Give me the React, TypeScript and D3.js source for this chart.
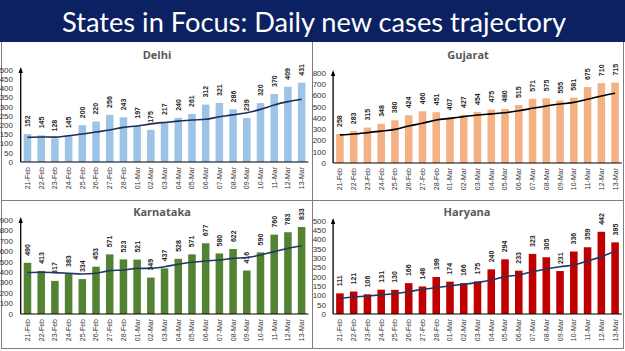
import React from 'react';
import * as d3 from 'd3';

const dates = ['21-Feb','22-Feb','23-Feb','24-Feb','25-Feb','26-Feb','27-Feb','28-Feb','01-Mar','02-Mar','03-Mar','04-Mar','05-Mar','06-Mar','07-Mar','08-Mar','09-Mar','10-Mar','11-Mar','12-Mar','13-Mar'];

const delhiCases = [152,145,128,145,200,220,256,243,197,175,217,240,261,312,321,286,239,320,370,409,431];
const delhiTrend = [134,136,135,143,152,163,174,188,196,207,215,222,228,232,246,256,268,286,310,328,341];
const delhiTicks = [0,50,100,150,200,250,300,350,400,450,500];

const gujaratCases = [258,283,315,348,380,424,460,451,407,427,454,475,480,515,571,575,555,581,675,710,715];
const gujaratTrend = [250,258,270,283,299,329,353,382,397,412,427,437,447,465,486,507,524,539,566,596,620];
const gujaratTicks = [0,100,200,300,400,500,600,700,800];

const karnatakaCases = [490,413,317,383,334,453,571,523,521,349,437,528,571,677,580,622,416,590,760,783,833];
const karnatakaTrend = [396,400,396,390,383,390,415,421,437,437,453,476,495,508,517,533,540,565,597,629,654];
const karnatakaTicks = [0,100,200,300,400,500,600,700,800,900];

const haryanaCases = [111,121,106,131,130,166,148,199,174,166,175,240,294,233,323,305,231,336,359,442,385];
const haryanaTrend = [85,91,97,103,109,120,133,141,152,160,170,183,201,210,227,242,254,263,285,308,339];
const haryanaTicks = [0,50,100,150,200,250,300,350,400,450,500];

const panels = [
  { name: 'Delhi', cases: delhiCases, trend: delhiTrend, ticks: delhiTicks, bar: '#9DC3E6', line: '#1F2D5A',
    x0: 20.7, x1: 308.4, yBase: 162, yTop: 70, labelRight: 13, titleX: 157, titleY: 59 },
  { name: 'Gujarat', cases: gujaratCases, trend: gujaratTrend, ticks: gujaratTicks, bar: '#F4B183', line: '#000000',
    x0: 333.1, x1: 621.9, yBase: 163, yTop: 73, labelRight: 326, titleX: 468, titleY: 59 },
  { name: 'Karnataka', cases: karnatakaCases, trend: karnatakaTrend, ticks: karnatakaTicks, bar: '#548235', line: '#1F3864',
    x0: 20.7, x1: 308.4, yBase: 314, yTop: 220, labelRight: 13, titleX: 162, titleY: 216 },
  { name: 'Haryana', cases: haryanaCases, trend: haryanaTrend, ticks: haryanaTicks, bar: '#C00000', line: '#1F3864',
    x0: 333.1, x1: 621.9, yBase: 314, yTop: 221, labelRight: 326, titleX: 467, titleY: 216 },
];

function Panel({ p }: { p: typeof panels[number] }) {
  const x = d3.scaleBand<string>().domain(dates).range([p.x0, p.x1]).paddingInner(0.45).paddingOuter(0.22);
  const maxTick = p.ticks[p.ticks.length - 1];
  const y = d3.scaleLinear().domain([0, maxTick]).range([p.yBase, p.yTop]);
  const cx = (d: string) => (x(d) as number) + x.bandwidth() / 2;
  const line = d3.line<number>().x((_, i) => cx(dates[i])).y(v => y(v)).curve(d3.curveMonotoneX);
  const axisX = p.x0;
  return (
    <g>
      <text x={p.titleX} y={p.titleY} textAnchor="middle" fontFamily="'Open Sans', 'Liberation Sans', sans-serif"
        fontWeight="bold" fontSize={11} fill="#595959">{p.name}</text>
      {p.ticks.map(t => (
        <text key={t} x={p.labelRight} y={y(t)} dy="0.35em" textAnchor="end" fontFamily="'Liberation Sans', Arial, sans-serif"
          fontSize={8} fill="#333">{t}</text>
      ))}
      {p.cases.map((v, i) => (
        <rect key={i} x={x(dates[i])} y={y(v)} width={x.bandwidth()} height={p.yBase - y(v)} fill={p.bar} />
      ))}
      {p.cases.map((v, i) => (
        <text key={'l' + i} transform={`translate(${cx(dates[i])},${y(v) - 7}) rotate(-90)`} dy="0.35em"
          fontFamily="'Liberation Sans Narrow', 'Liberation Sans', Arial, sans-serif" fontWeight="bold" fontSize={7}
          fill="#262626">{v}</text>
      ))}
      <path d={line(p.trend) || ''} fill="none" stroke={p.line} strokeWidth={1.6} />
      <line x1={axisX} x2={p.x1} y1={p.yBase} y2={p.yBase} stroke="#000" strokeWidth={1.2} />
      <line x1={axisX} x2={axisX} y1={p.yBase} y2={p.yTop - 1} stroke="#000" strokeWidth={1.3} />
      <path d={`M${axisX - 2.2},${p.yTop + 3} L${axisX},${p.yTop - 3} L${axisX + 2.2},${p.yTop + 3} Z`} fill="#000" />
      {dates.map(d => (
        <text key={d} transform={`translate(${cx(d)},${p.yBase + 5}) rotate(-90)`} dy="0.35em" textAnchor="end"
          fontFamily="'Liberation Sans', Arial, sans-serif" fontSize={7} fill="#333">{d}</text>
      ))}
    </g>
  );
}

export default function App() {
  return (
    <svg width={625} height={351} style={{ position: 'absolute', left: 0, top: 0, background: '#fff' }}>
      <rect x={0} y={0} width={625} height={351} fill="#fff" />
      <rect x={0} y={0} width={625} height={42} fill="#0B2161" />
      <text x={314} y={32} textAnchor="middle" fontFamily="Lato, 'Open Sans', sans-serif" fontSize={27}
        fill="#fff" textLength={504} lengthAdjust="spacingAndGlyphs">States in Focus: Daily new cases trajectory</text>
      <g stroke="#7F7F7F" strokeWidth={1} fill="none">
        <line x1={1.5} x2={1.5} y1={42} y2={349} />
        <line x1={312.5} x2={312.5} y1={42} y2={349} />
        <line x1={623.5} x2={623.5} y1={42} y2={349} />
        <line x1={1.5} x2={623.5} y1={200.5} y2={200.5} />
        <line x1={1.5} x2={623.5} y1={348.5} y2={348.5} />
      </g>
      {panels.map(p => <Panel key={p.name} p={p} />)}
    </svg>
  );
}
